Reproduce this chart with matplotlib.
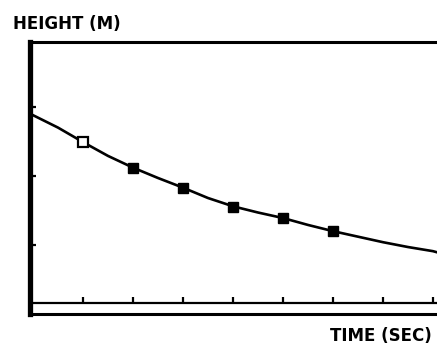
import matplotlib.pyplot as plt
import numpy as np

# readings taken off the chart (time in s, height in m)
tempo_curva = [0, 0.5, 1, 1.5, 2, 2.5, 3, 3.5, 4, 4.5, 5, 5.5, 6, 6.5, 7, 7.5, 8, 8.1]
altezza_curva = [2.88, 2.70, 2.49, 2.29, 2.12, 1.97, 1.83, 1.68, 1.56, 1.47, 1.39, 1.29, 1.20, 1.12, 1.04, 0.97, 0.91, 0.89]
tempo_punti = [1, 2, 3, 4, 5, 6]
altezza_punti = [2.49, 2.12, 1.83, 1.55, 1.39, 1.20]
x_ticks = [1, 2, 3, 4, 5, 6, 7, 8]
y_ticks = [1, 2, 3]

fig = plt.figure(figsize=(4.37, 3.45), dpi=100)
ax = fig.add_axes([30 / 437, 31 / 345, 453 / 437, 272 / 345])

ax.plot(tempo_curva, altezza_curva, color='black', lw=1.9, clip_on=False)
# first point open, the others filled
ax.plot(tempo_punti[:1], altezza_punti[:1], 's', ms=6.5, mfc='white', mec='black', mew=1.6)
ax.plot(tempo_punti[1:], altezza_punti[1:], 's', ms=6.5, color='black')

ax.set_xlim(-0.06, 9.0)
ax.set_ylim(0, 3.94)

ax.spines['left'].set_linewidth(3.8)
ax.spines['top'].set_linewidth(2.2)
ax.spines['right'].set_visible(False)
ax.spines['bottom'].set_position(('data', 0.16))
ax.spines['bottom'].set_linewidth(1.6)
ax.axhline(0, color='black', lw=2.2, clip_on=False)

ax.set_xticks(x_ticks)
ax.set_yticks(y_ticks)
ax.tick_params(axis='both', direction='in', length=4, width=1.6, labelbottom=False, labelleft=False)

fig.text(13 / 437, 1 - 29 / 345, "HEIGHT (M)", fontsize=12, fontweight='heavy', ha='left', va='baseline')
fig.text(432 / 437, 1 - 341 / 345, "TIME (SEC)", fontsize=12, fontweight='heavy', ha='right', va='baseline')

plt.savefig("out.png", dpi=100)
